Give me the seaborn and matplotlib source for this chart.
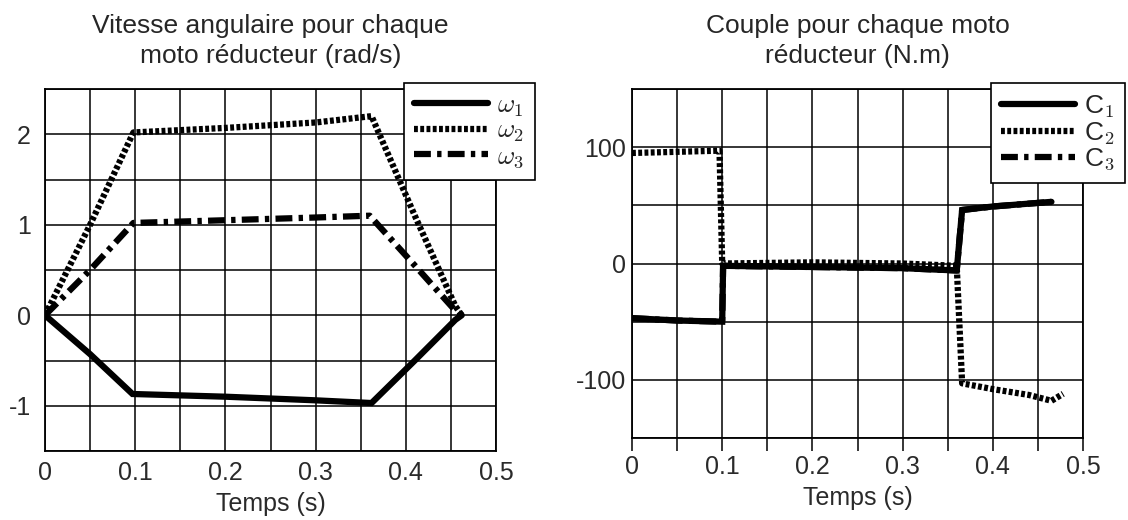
import numpy as np
import pandas as pd
import matplotlib
matplotlib.use("Agg")
import matplotlib.pyplot as plt
from matplotlib.ticker import MultipleLocator
import seaborn as sns

# ---------------- data ----------------
t_w1 = [0.0, 0.05, 0.097, 0.2, 0.3, 0.362, 0.41, 0.455, 0.462]
w1 = [0.0, -0.43, -0.87, -0.90, -0.94, -0.97, -0.50, -0.05, 0.0]
t_w2 = [0.0, 0.05, 0.098, 0.2, 0.3, 0.362, 0.41, 0.455, 0.462]
w2 = [0.0, 1.00, 2.02, 2.07, 2.13, 2.20, 1.10, 0.10, 0.0]
t_w3 = [0.0, 0.05, 0.098, 0.2, 0.3, 0.36, 0.41, 0.455, 0.462]
w3 = [0.0, 0.50, 1.02, 1.05, 1.08, 1.10, 0.55, 0.05, 0.0]

t_c1 = [0.0, 0.05, 0.1, 0.101, 0.2, 0.3, 0.36, 0.366, 0.4, 0.465]
c1 = [-47, -49, -50, -2, -3, -4, -6, 46, 49, 53]
t_c2 = [0.0, 0.05, 0.097, 0.1, 0.2, 0.3, 0.36, 0.366, 0.4, 0.44, 0.465, 0.478]
c2 = [95, 96, 97, 0, 1, 0, -2, -103, -108, -113, -118, -112]
t_c3 = [0.0, 0.05, 0.1, 0.101, 0.2, 0.3, 0.36, 0.366, 0.4, 0.465]
c3 = [-47, -49, -50, -2, -3, -4, -6, 46, 49, 53]

labels_w = [r"$\omega_1$", r"$\omega_2$", r"$\omega_3$"]
labels_c = [r"C$_1$", r"C$_2$", r"C$_3$"]
title_w = "Vitesse angulaire pour chaque\nmoto réducteur (rad/s)"
title_c = "Couple pour chaque moto\nréducteur (N.m)"
xlabel = "Temps (s)"

# ---------------- style ----------------
sns.set_theme(style="white")
plt.rcParams["font.family"] = ["Liberation Sans", "DejaVu Sans"]
plt.rcParams["mathtext.fontset"] = "cm"
plt.rcParams["axes.unicode_minus"] = False
plt.rcParams["axes.edgecolor"] = "black"
plt.rcParams["text.color"] = "#262626"

LW = 4.5
styles = [
    "-",
    (0, (0.62, 0.38)),
    (0, (2.7, 1.0, 0.7, 1.0)),
]

fig = plt.figure(figsize=(11.28, 5.2), dpi=100)
ax1 = fig.add_axes([45 / 1128, 1 - 451 / 520, 451 / 1128, 362 / 520])
ax2 = fig.add_axes([632 / 1128, 1 - 438 / 520, 451 / 1128, 349 / 520])


def draw(ax, ts, ys, zorders):
    for t, y, ls, z in zip(ts, ys, styles, zorders):
        df = pd.DataFrame({"t": t, "v": y})
        sns.lineplot(data=df, x="t", y="v", ax=ax, color="black",
                     linewidth=LW, linestyle=ls, legend=False,
                     estimator=None, sort=False, zorder=z,
                     solid_joinstyle="miter", dash_capstyle="butt")


draw(ax1, [t_w1, t_w2, t_w3], [w1, w2, w3], [3, 4, 5])
draw(ax2, [t_c1, t_c2, t_c3], [c1, c2, c3], [4, 5, 3])

for ax in (ax1, ax2):
    ax.set_xlim(0, 0.5)
    ax.xaxis.set_major_locator(MultipleLocator(0.1))
    ax.xaxis.set_minor_locator(MultipleLocator(0.05))
    ax.xaxis.set_major_formatter(matplotlib.ticker.FuncFormatter(
        lambda v, p: "0" if abs(v) < 1e-9 else f"{v:g}"))
    ax.grid(True, which="both", color="black", linewidth=1.1)
    ax.set_axisbelow(True)
    for s in ax.spines.values():
        s.set_linewidth(1.3)
        s.set_color("black")
    ax.tick_params(labelsize=18, colors="#2a2a2a")
    ax.set_ylabel("")
    ax.set_xlabel(xlabel, fontsize=18, labelpad=5, color="#2a2a2a")

ax1.set_ylim(-1.5, 2.5)
ax1.yaxis.set_major_locator(MultipleLocator(1))
ax1.yaxis.set_minor_locator(MultipleLocator(0.5))
ax1.tick_params(axis="both", which="both", length=0)
ax1.tick_params(axis="x", pad=7)
ax1.tick_params(axis="y", pad=10)

ax2.set_ylim(-150, 150)
ax2.yaxis.set_major_locator(MultipleLocator(100))
ax2.yaxis.set_minor_locator(MultipleLocator(50))
ax2.tick_params(axis="y", which="both", length=0, pad=4)
ax2.tick_params(axis="x", which="both", direction="out", length=9.4,
                width=1.1, color="black", bottom=True, pad=3)

ax1.set_title(title_w, fontsize=19, pad=19, color="#262626", linespacing=1.3)
ax2.set_title(title_c, fontsize=19, pad=19, color="#262626", linespacing=1.3)

for ax, labs in ((ax1, labels_w), (ax2, labels_c)):
    lines = ax.get_lines()[:3]
    leg = ax.legend(lines, labs, loc="upper left",
                    bbox_to_anchor=(0.795, 1.017), borderaxespad=0,
                    fontsize=19, handlelength=2.8, handletextpad=0.35,
                    labelspacing=0.0, borderpad=0.4, frameon=True,
                    fancybox=False, framealpha=1, edgecolor="black")
    leg.get_frame().set_linewidth(1.2)
    leg.set_zorder(10)

fig.savefig("out.png", dpi=100)
